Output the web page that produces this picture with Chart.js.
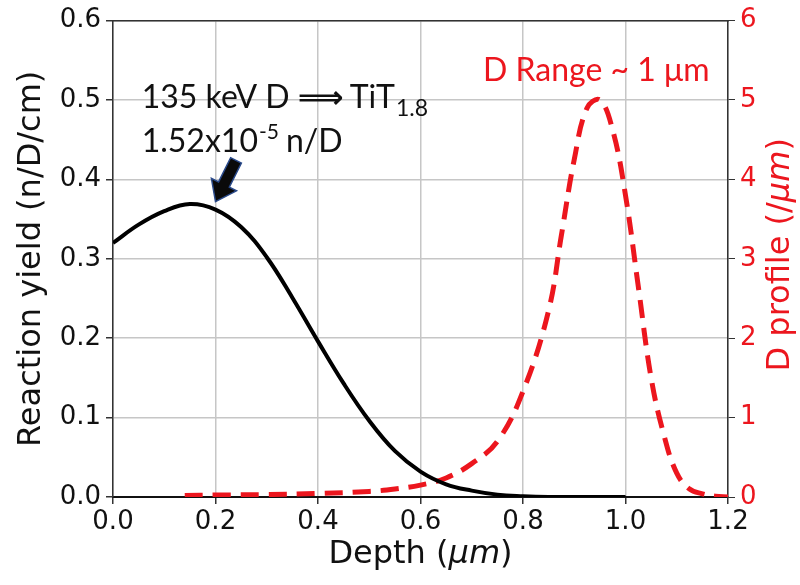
<!DOCTYPE html>
<html>
<head>
<meta charset="utf-8">
<script src="https://cdn.jsdelivr.net/npm/chart.js@4/dist/chart.umd.min.js"></script>
<style>
  html, body { margin: 0; padding: 0; background: #fff; }
  #wrap { width: 800px; height: 585px; position: relative; }
</style>
</head>
<body>
<div id="wrap"><canvas id="c" width="800" height="585"></canvas></div>
<script>
// ---- data ----
const depthYield = [0, 0.05, 0.1, 0.15, 0.2, 0.25, 0.3, 0.35, 0.4, 0.45, 0.5, 0.55, 0.6, 0.65, 0.7, 0.75, 0.8, 0.85, 0.9, 1.0];
const reactionYield = [0.320, 0.343, 0.360, 0.369, 0.362, 0.340, 0.302, 0.251, 0.196, 0.143, 0.096, 0.058, 0.032, 0.016, 0.008, 0.003, 0.001, 0, 0, 0];

const depthProfileX = [0.14, 0.2, 0.3, 0.4, 0.5, 0.55, 0.6, 0.65, 0.7, 0.75, 0.8, 0.85, 0.875, 0.9, 0.925, 0.95, 0.975, 1.0, 1.025, 1.05, 1.075, 1.1, 1.125, 1.15, 1.175, 1.2];
const dProfile = [0.02, 0.025, 0.03, 0.045, 0.07, 0.1, 0.15, 0.24, 0.42, 0.7, 1.33, 2.35, 3.3, 4.25, 4.9, 5.0, 4.62, 3.8, 2.65, 1.5, 0.78, 0.3, 0.1, 0.04, 0.01, 0];

const xTicksRange = [0, 1.2];
const yLeftRange = [0, 0.6];
const yRightRange = [0, 6];

const RED = 'rgb(236,22,30)';
const AXIS_FONT = 'DejaVu Sans';
const NOTE_FONT = 'Lato';

const annotations = {
  id: 'annotations',
  afterDraw(chart) {
    const { ctx, scales: { x, y, y2 }, chartArea } = chart;
    ctx.save();
    // x title with italic μm
    const xt = [['Depth (', 'normal'], ['μm', 'italic'], [')', 'normal']];
    let total = 0;
    xt.forEach(([t, s]) => { ctx.font = `${s} 32px ${AXIS_FONT}`; total += ctx.measureText(t).width; });
    let cx = (chartArea.left + chartArea.right) / 2 - total / 2;
    ctx.fillStyle = '#111';
    ctx.textBaseline = 'middle';
    ctx.textAlign = 'left';
    xt.forEach(([t, s]) => { ctx.font = `${s} 32px ${AXIS_FONT}`; ctx.fillText(t, cx, 555); cx += ctx.measureText(t).width; });

    // right title rotated, reading bottom-to-top
    const rt = [['D profile (/', 'normal'], ['μm', 'italic'], [')', 'normal']];
    total = 0;
    rt.forEach(([t, s]) => { ctx.font = `${s} 32px ${AXIS_FONT}`; total += ctx.measureText(t).width; });
    ctx.save();
    ctx.translate(781, (chartArea.top + chartArea.bottom) / 2 - 4);
    ctx.rotate(-Math.PI / 2);
    ctx.fillStyle = RED;
    let rx = -total / 2;
    rt.forEach(([t, s]) => { ctx.font = `${s} 32px ${AXIS_FONT}`; ctx.fillText(t, rx, 0); rx += ctx.measureText(t).width; });
    ctx.restore();

    // annotation text 1
    ctx.textBaseline = 'alphabetic';
    ctx.fillStyle = '#111';
    let ax = x.getPixelForValue(0.056);
    let ay = y.getPixelForValue(0.49);
    ctx.font = `32px ${NOTE_FONT}`;
    const p1 = '135 keV D ';
    ctx.fillText(p1, ax, ay);
    ax += ctx.measureText(p1).width;
    ctx.font = `bold 32px DejaVu Sans`;
    const arr = '\u27F9';
    ctx.fillText(arr, ax, ay);
    ax += ctx.measureText(arr).width + 6;
    ctx.font = `32px ${NOTE_FONT}`;
    ctx.fillText('TiT', ax, ay);
    ax += ctx.measureText('TiT').width;
    ctx.font = `23px ${NOTE_FONT}`;
    ctx.fillText('1.8', ax + 1, ay + 8);

    // annotation text 2
    ax = x.getPixelForValue(0.056);
    ay = y.getPixelForValue(0.434);
    ctx.font = `32px ${NOTE_FONT}`;
    ctx.fillText('1.52x10', ax, ay);
    ax += ctx.measureText('1.52x10').width;
    ctx.font = `21px ${NOTE_FONT}`;
    ctx.fillText('-5', ax + 1, ay - 13);
    ax += ctx.measureText('-5').width + 8;
    ctx.font = `32px ${NOTE_FONT}`;
    ctx.fillText('n/D', ax, ay);

    // D Range text
    ctx.fillStyle = RED;
    ctx.font = `32px ${NOTE_FONT}`;
    ctx.fillText('D Range ~ 1 μm', x.getPixelForValue(0.722), y2.getPixelForValue(5.245));

    // arrow
    const tipX = x.getPixelForValue(0.2), tipY = y.getPixelForValue(0.372);
    const tailX = x.getPixelForValue(0.24), tailY = y.getPixelForValue(0.424);
    const dx = tailX - tipX, dy = tailY - tipY;
    const L = Math.hypot(dx, dy);
    const ux = dx / L, uy = dy / L;
    const nx = -uy, ny = ux;
    const headLen = 19, headW = 14, shaftW = 6;
    const bx = tipX + ux * headLen, by = tipY + uy * headLen;
    ctx.beginPath();
    ctx.moveTo(tipX, tipY);
    ctx.lineTo(bx + nx * headW, by + ny * headW);
    ctx.lineTo(bx + nx * shaftW, by + ny * shaftW);
    ctx.lineTo(tailX + nx * shaftW, tailY + ny * shaftW);
    ctx.lineTo(tailX - nx * shaftW, tailY - ny * shaftW);
    ctx.lineTo(bx - nx * shaftW, by - ny * shaftW);
    ctx.lineTo(bx - nx * headW, by - ny * headW);
    ctx.closePath();
    ctx.fillStyle = '#0a0a0a';
    ctx.fill();
    ctx.strokeStyle = '#2a4a8a';
    ctx.lineWidth = 1.5;
    ctx.stroke();
    ctx.restore();
  }
};

new Chart(document.getElementById('c'), {
  type: 'line',
  data: {
    datasets: [
      {
        label: 'Reaction yield',
        data: depthYield.map((d, i) => ({ x: d, y: reactionYield[i] })),
        borderColor: '#000',
        borderWidth: 4,
        pointRadius: 0,
        tension: 0.4,
        yAxisID: 'y',
        xAxisID: 'x'
      },
      {
        label: 'D profile',
        data: depthProfileX.map((d, i) => ({ x: d, y: dProfile[i] })),
        borderColor: RED,
        borderWidth: 5,
        borderDash: [18, 10],
        pointRadius: 0,
        tension: 0.4,
        yAxisID: 'y2',
        xAxisID: 'x'
      }
    ]
  },
  options: {
    responsive: false,
    animation: false,
    devicePixelRatio: 1,
    layout: { padding: 0 },
    plugins: { legend: { display: false }, tooltip: { enabled: false } },
    scales: {
      x: {
        type: 'linear',
        position: 'bottom',
        min: xTicksRange[0], max: xTicksRange[1],
        ticks: {
          stepSize: 0.2,
          color: '#111',
          font: { family: AXIS_FONT, size: 26 },
          padding: 3,
          maxRotation: 0,
          callback: v => Number(v).toFixed(1)
        },
        grid: { color: '#c6c6c6', lineWidth: 1.5, tickLength: 7, tickColor: '#333' },
        border: { color: '#111', width: 2 },
        afterFit: s => { s.height = 88; }
      },
      xTop: {
        type: 'linear',
        position: 'top',
        min: xTicksRange[0], max: xTicksRange[1],
        ticks: { display: false },
        grid: { display: false, drawTicks: false },
        border: { color: '#333', width: 1.5 },
        afterFit: s => { s.height = 20; }
      },
      y: {
        type: 'linear',
        position: 'left',
        min: yLeftRange[0], max: yLeftRange[1],
        ticks: {
          stepSize: 0.1,
          color: '#111',
          font: { family: AXIS_FONT, size: 26 },
          padding: 5,
          callback: v => Number(v).toFixed(1)
        },
        title: {
          display: true,
          text: 'Reaction yield (n/D/cm)',
          color: '#111',
          font: { family: AXIS_FONT, size: 32 },
          padding: { top: 12, bottom: 0 }
        },
        grid: { color: '#c6c6c6', lineWidth: 1.5, tickLength: 7, tickColor: '#333' },
        border: { color: '#333', width: 1.5 },
        afterFit: s => { s.width = 113; }
      },
      y2: {
        type: 'linear',
        position: 'right',
        min: yRightRange[0], max: yRightRange[1],
        ticks: {
          stepSize: 1,
          color: RED,
          font: { family: AXIS_FONT, size: 26 },
          padding: 5,
          callback: v => String(v)
        },
        grid: { drawOnChartArea: false, tickLength: 7, tickColor: '#333' },
        border: { color: '#333', width: 1.5 },
        afterFit: s => { s.width = 72; }
      }
    }
  },
  plugins: [annotations]
});
</script>
</body>
</html>
